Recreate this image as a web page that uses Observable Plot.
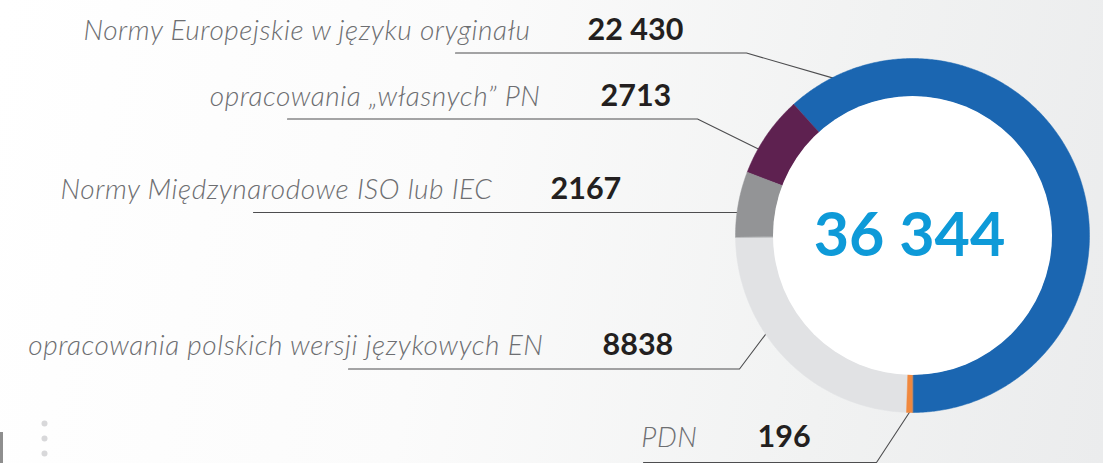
<!DOCTYPE html>
<html>
<head>
<meta charset="utf-8">
<script src="https://cdn.jsdelivr.net/npm/d3@7"></script>
<script src="https://cdn.jsdelivr.net/npm/@observablehq/plot@0.6"></script>
<style>
  html, body { margin: 0; padding: 0; background: #ffffff; }
  #chart { width: 1103px; height: 463px; overflow: hidden; }
  .cat-labels text { letter-spacing: 0.55px; }
</style>
</head>
<body>
<div id="chart"></div>
<script>
// ---- data ----
const categories = [
  "Normy Europejskie w języku oryginału",
  "opracowania „własnych” PN",
  "Normy Międzynarodowe ISO lub IEC",
  "opracowania polskich wersji językowych EN",
  "PDN"
];
const values = [22430, 2713, 2167, 8838, 196];
const colors = ["#1b66b1", "#5e2150", "#939496", "#e1e2e4", "#f0883e"];

// ---- layout (not data) ----
const W = 1103, H = 463;
const cx = 912, cy = 235, R = 177, R0 = 139;
const rows = [
  {labelX: 530, numX: 587, base: 39,  lineY: 52.5,  lineX0: 455, bendX: 746,  angle: 333.7},
  {labelX: 540, numX: 600, base: 105, lineY: 118.5, lineX0: 287, bendX: 697,  angle: 299.3},
  {labelX: 492, numX: 550, base: 198, lineY: 212,   lineX0: 253, bendX: null, angle: 277.4},
  {labelX: 543, numX: 602, base: 354, lineY: 368.5, lineX0: 348, bendX: 739,  angle: 236.3},
  {labelX: 697, numX: 757, base: 446, lineY: 462,   lineX0: 643, bendX: 876,  angle: 180.6}
];
const LABEL_SIZE = 28, NUM_SIZE = 30.5, TOTAL_SIZE = 61;

const fmt = n => n >= 10000 ? d3.format(",")(n).replace(/,/g, " ") : String(n);
const total = d3.sum(values);

// slices: counterclockwise from the bottom in category order
const order = d3.range(values.length).reverse();
const pie = d3.pie().sort(null).startAngle(Math.PI).endAngle(3 * Math.PI);
const arcs = pie(order.map(i => values[i])).map((a, k) => ({...a, idx: order[k]}));

function ringPolygon(a0, a1) {
  const pts = [];
  const n = Math.max(2, Math.ceil((a1 - a0) / (Math.PI / 360)));
  for (let j = 0; j <= n; j++) {
    const a = a0 + (a1 - a0) * j / n;
    pts.push({x: cx + R * Math.sin(a), y: cy - R * Math.cos(a)});
  }
  for (let j = n; j >= 0; j--) {
    const a = a0 + (a1 - a0) * j / n;
    pts.push({x: cx + R0 * Math.sin(a), y: cy - R0 * Math.cos(a)});
  }
  return pts;
}

// draw orange (smallest) last so it stays visible
const drawOrder = arcs.slice().sort((a, b) => b.value - a.value);
const sliceMarks = drawOrder.map(a =>
  Plot.line(ringPolygon(a.startAngle, a.endAngle), {
    x: "x", y: "y", fill: colors[a.idx], stroke: colors[a.idx],
    strokeWidth: 0.5, curve: "linear-closed"
  })
);

// leader lines
const leaderData = [];
rows.forEach((r, i) => {
  const a = r.angle * Math.PI / 180;
  const ex = cx + (R - 2) * Math.sin(a), ey = cy - (R - 2) * Math.cos(a);
  leaderData.push({k: i, x: r.lineX0, y: r.lineY});
  if (r.bendX != null) leaderData.push({k: i, x: r.bendX, y: r.lineY});
  leaderData.push({k: i, x: ex, y: r.bendX != null ? ey : r.lineY});
});

const labelData = categories.map((c, i) => ({
  label: c, num: fmt(values[i]),
  lx: rows[i].labelX, nx: rows[i].numX,
  ly: rows[i].base - 0.32 * LABEL_SIZE, ny: rows[i].base - 0.32 * NUM_SIZE
}));

const chart = Plot.plot({
  width: W, height: H,
  margin: 0,
  x: {type: "linear", domain: [0, W], range: [0, W], axis: null},
  y: {type: "linear", domain: [0, H], range: [0, H], axis: null},
  style: {
    background: "linear-gradient(100deg, #ffffff 0%, #fbfbfb 40%, #f1f2f2 75%, #ebeced 100%)",
    overflow: "hidden"
  },
  marks: [
    // decorative slide remnants, bottom-left
    Plot.rect([0], {x1: () => 0, x2: () => 3, y1: () => 432, y2: () => H, fill: "#8e8e8e"}),
    Plot.dot([423, 438, 453], {x: () => 44, y: d => d, r: 3, fill: "#d8d8da", stroke: "none"}),
    // leader lines
    Plot.line(leaderData, {x: "x", y: "y", z: "k", stroke: "#4d4d4f", strokeWidth: 1.1, curve: "linear"}),
    // ring
    ...sliceMarks,
    Plot.dot([{x: cx, y: cy}], {x: "x", y: "y", r: R0 + 0.5, fill: "#ffffff", stroke: "none"}),
    // labels
    Plot.text(labelData, {
      x: "lx", y: "ly", text: "label", textAnchor: "end", lineAnchor: "middle",
      fontFamily: "Lato", fontStyle: "italic", fontWeight: 300, fontSize: LABEL_SIZE, fill: "#6d6e71",
      className: "cat-labels"
    }),
    Plot.text(labelData, {
      x: "nx", y: "ny", text: "num", textAnchor: "start", lineAnchor: "middle",
      fontFamily: "Lato", fontWeight: 700, fontSize: NUM_SIZE, fill: "#231f20"
    }),
    // total
    Plot.text([fmt(total)], {
      x: () => 909, y: () => 255 - 0.32 * TOTAL_SIZE, text: d => d,
      textAnchor: "middle", lineAnchor: "middle",
      fontFamily: "Lato", fontWeight: 700, fontSize: TOTAL_SIZE, fill: "#0e9ad8"
    })
  ]
});
document.getElementById("chart").appendChild(chart);
</script>
</body>
</html>
